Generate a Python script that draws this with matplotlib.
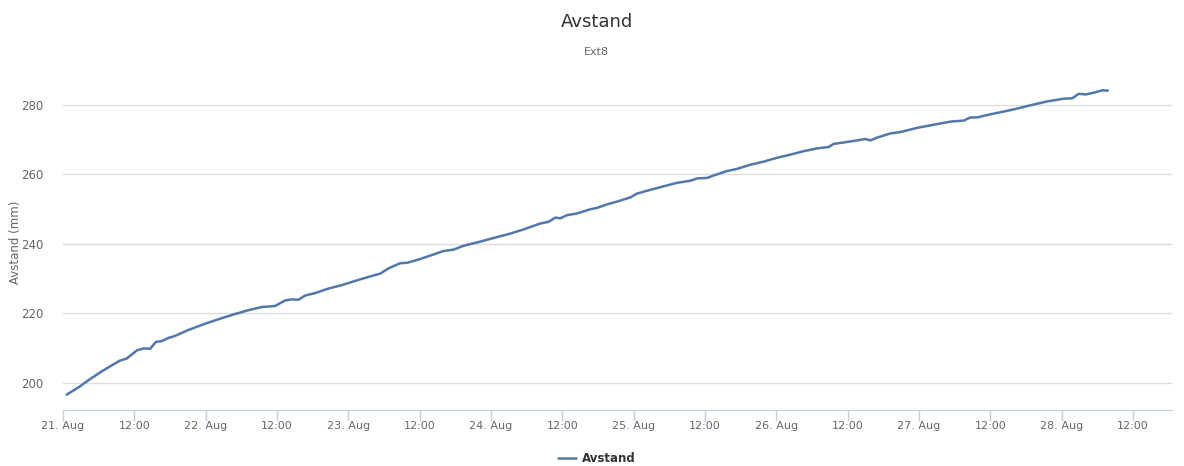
import matplotlib
matplotlib.use("Agg")
import matplotlib.pyplot as plt
import matplotlib.dates as mdates
from datetime import datetime, timedelta

# Hours since 21 Aug 00:00 and measured distance (mm)
hours = [0.62, 2.02, 2.86, 4.26, 6.51, 8.47, 9.59, 10.72, 12.40, 13.51, 14.64, 15.65,
         16.61, 17.72, 18.85, 21.09, 23.90, 26.71, 28.95, 31.19, 33.44, 35.68, 37.36,
         38.49, 39.60, 40.73, 42.41, 44.65, 46.90, 49.14, 51.67, 53.35, 54.75, 56.72,
         57.85, 60.09, 62.32, 64.00, 65.69, 67.37, 70.18, 72.99, 75.23, 77.47, 80.28,
         81.68, 82.81, 83.65, 84.77, 86.46, 88.70, 89.82, 91.50, 93.19, 95.43, 96.56,
         98.80, 101.03, 103.29, 105.52, 106.75, 108.33, 109.44, 111.70, 113.38, 115.62,
         117.86, 120.11, 122.35, 124.59, 126.85, 128.80, 129.64, 131.32, 133.58, 134.97,
         135.82, 136.94, 139.18, 140.87, 143.68, 146.47, 149.28, 151.52, 152.65, 153.77,
         155.46, 157.70, 159.93, 162.74, 165.56, 168.35, 169.77, 170.88, 172.01, 173.40,
         174.81, 175.76]
values = [196.6, 198.1, 199.0, 200.75, 203.3, 205.3, 206.4, 207.0, 209.3, 209.9, 209.8, 211.8,
          212.0, 212.9, 213.5, 215.2, 217.0, 218.6, 219.8, 220.9, 221.8, 222.1, 223.7,
          224.0, 223.9, 225.1, 225.8, 227.1, 228.1, 229.3, 230.6, 231.4, 232.9, 234.4,
          234.5, 235.6, 236.9, 237.9, 238.3, 239.4, 240.6, 241.9, 242.9, 244.1, 245.8,
          246.3, 247.5, 247.3, 248.2, 248.7, 249.9, 250.3, 251.3, 252.1, 253.3, 254.4,
          255.5, 256.5, 257.5, 258.1, 258.8, 258.9, 259.6, 260.9, 261.5, 262.7,
          263.6, 264.7, 265.6, 266.6, 267.4, 267.8, 268.7, 269.1, 269.7, 270.1,
          269.7, 270.5, 271.7, 272.1, 273.3, 274.2, 275.1, 275.4, 276.3, 276.3,
          277.0, 277.8, 278.6, 279.8, 280.9, 281.7, 281.8, 283.1, 282.9, 283.4,
          284.1, 284.0]
yticks = [200, 220, 240, 260, 280]
title = "Avstand"
subtitle = "Ext8"
ylabel = "Avstand (mm)"
series_name = "Avstand"

start = datetime(2014, 8, 21)
times = [start + timedelta(hours=h) for h in hours]

W, H = 1184, 466
fig = plt.figure(figsize=(W / 100, H / 100), dpi=100)
left, right, top, bottom = 63, 1172, 75, 410
ax = fig.add_axes([left / W, 1 - bottom / H, (right - left) / W, (bottom - top) / H])

ax.plot(times, values, color="#5177AB", lw=1.8, solid_joinstyle="round", solid_capstyle="round",
        label=series_name, zorder=3)

ax.set_xlim(start, start + timedelta(hours=(right - left) / 142.67 * 24))
ax.set_ylim(192.2, 288.5)
ax.set_yticks(yticks)
ax.yaxis.grid(True, color="#DDDDDD", lw=1)
ax.set_axisbelow(True)

ax.xaxis.set_major_locator(mdates.HourLocator(byhour=[0, 12]))

def fmt(x, pos=None):
    d = mdates.num2date(x)
    if d.hour == 0:
        return f"{d.day}. {d.strftime('%b')}"
    return d.strftime("%H:%M")

ax.xaxis.set_major_formatter(plt.FuncFormatter(fmt))

for s in ["top", "right", "left"]:
    ax.spines[s].set_visible(False)
ax.spines["bottom"].set_color("#C0D0E0")
ax.tick_params(axis="x", direction="out", length=8, width=1, color="#C0D0E0",
               labelsize=8, labelcolor="#666666", pad=0)
ax.tick_params(axis="y", length=0, labelsize=8.5, labelcolor="#666666", pad=14)

ax.set_ylabel(ylabel, fontsize=8.5, color="#666666")
ax.yaxis.set_label_coords((22 - left) / (right - left), 0.5)

fig.text(0.504, 1 - 22 / H, title, ha="center", va="center", fontsize=13, color="#333333")
fig.text(0.504, 1 - 52 / H, subtitle, ha="center", va="center", fontsize=8, color="#666666")

leg = fig.legend(loc="center", bbox_to_anchor=(0.504, 1 - 459 / H), frameon=False,
                 prop={"size": 8.5, "weight": "bold"}, handlelength=1.5, handletextpad=0.5)
for t in leg.get_texts():
    t.set_color("#333333")

fig.savefig("out.png", dpi=100, facecolor="white")
